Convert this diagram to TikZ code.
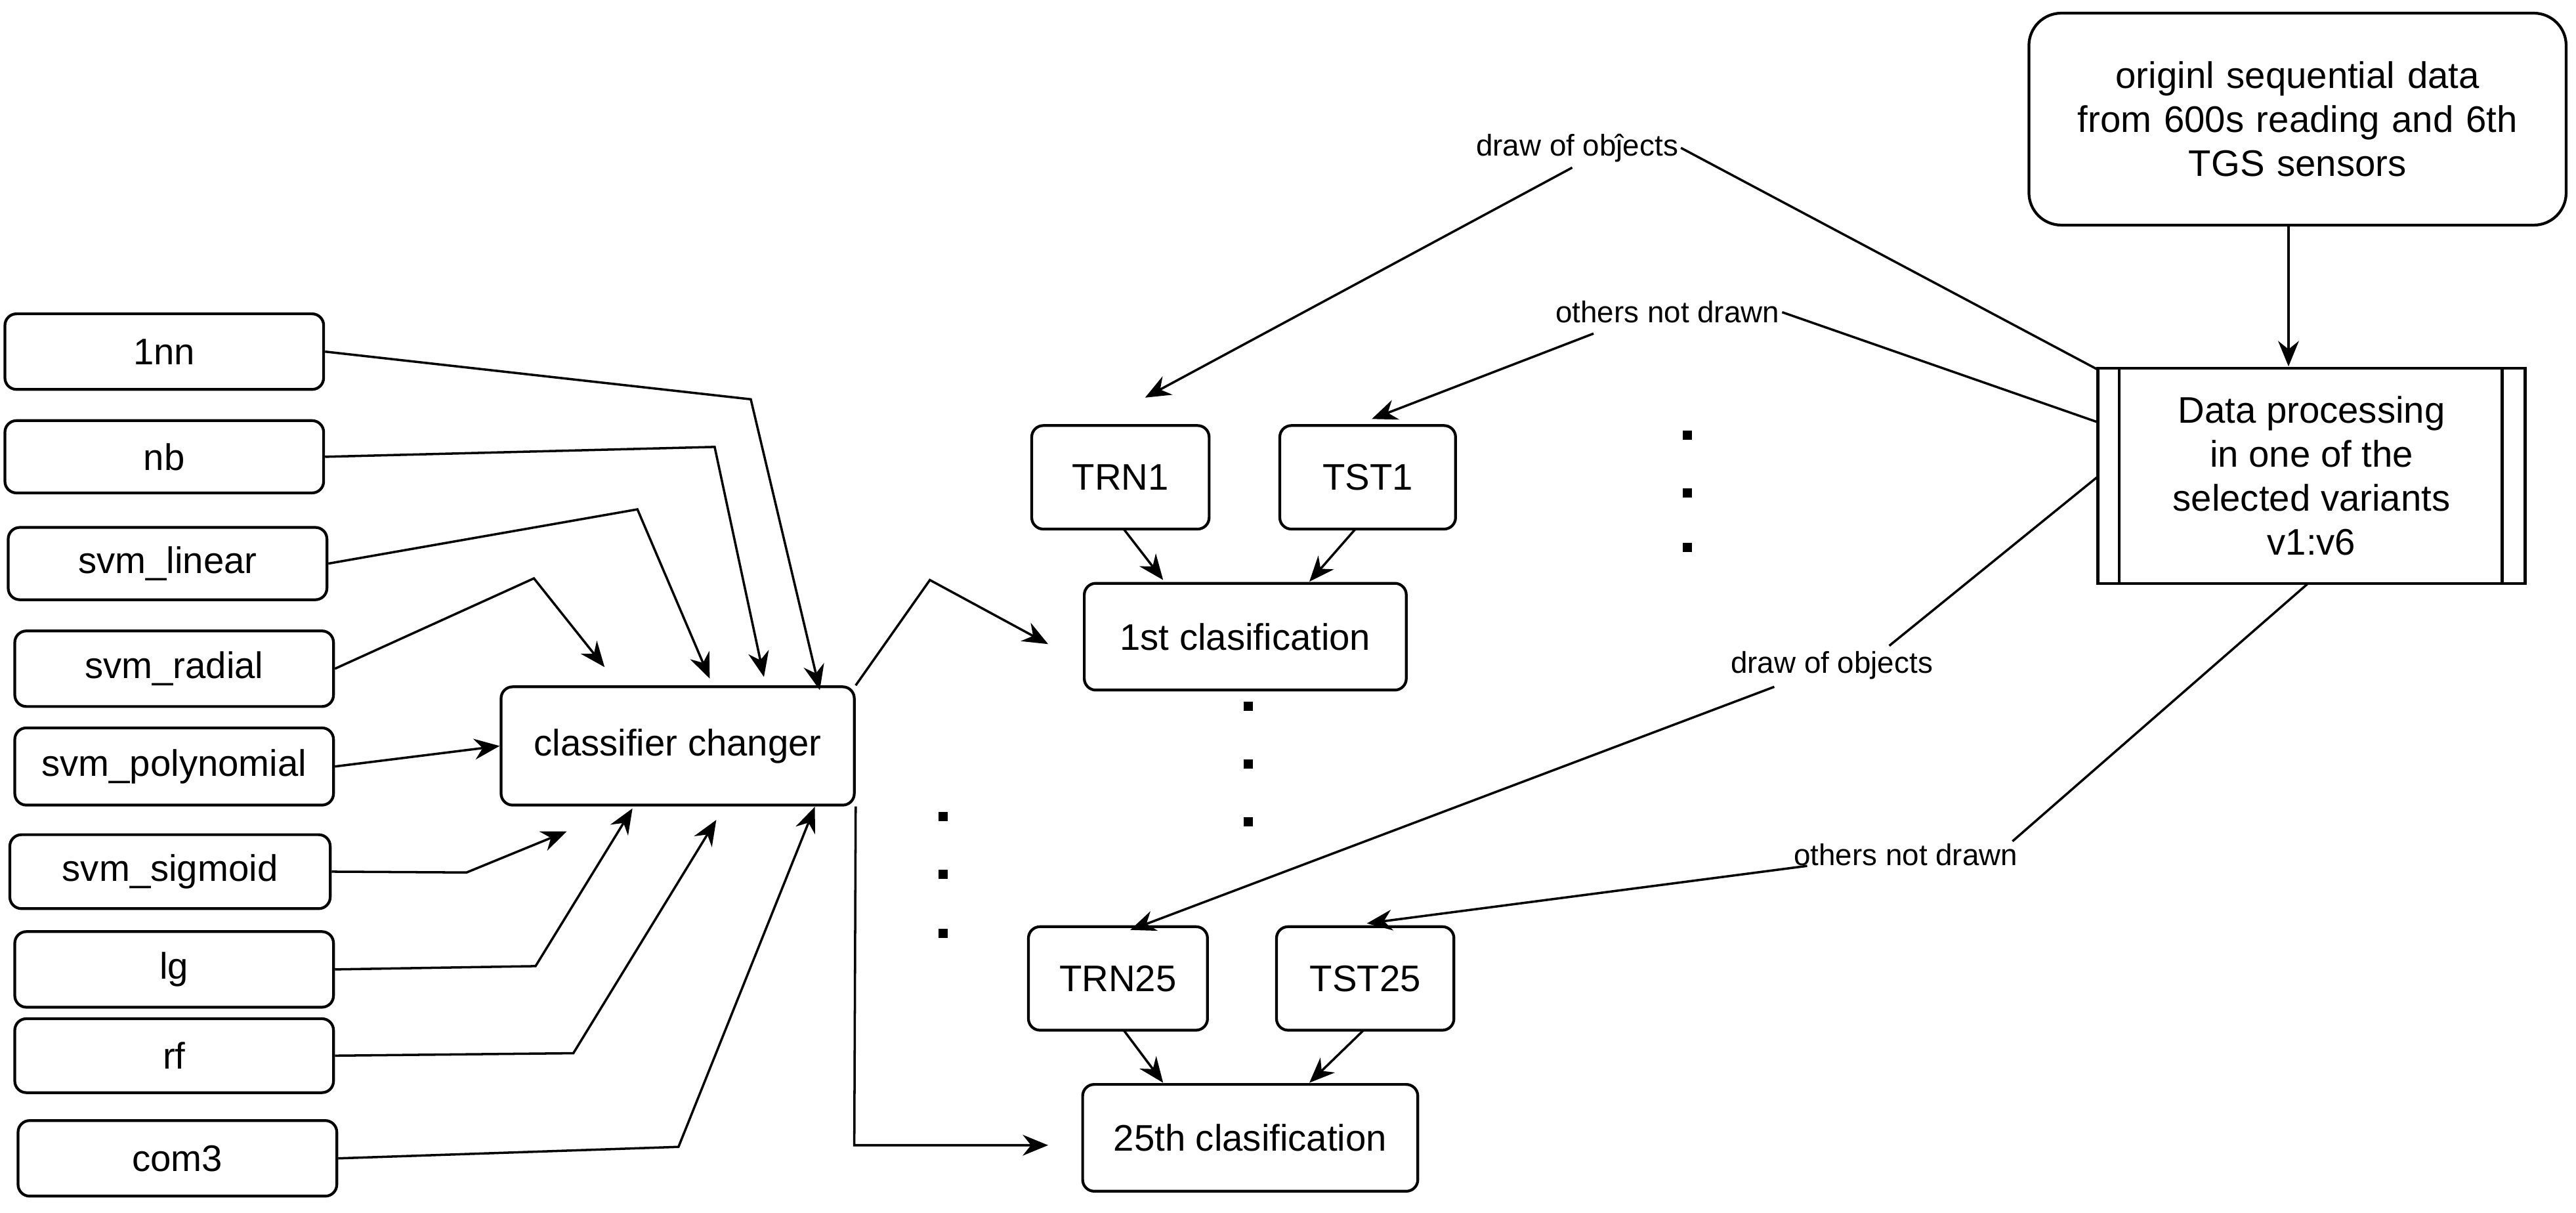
\documentclass[tikz,border=0pt]{standalone}
\usepackage{fontspec}
\setmainfont{Liberation Sans}
\usetikzlibrary{arrows.meta}
\begin{document}
\begin{tikzpicture}[x=0.025cm,y=-0.025cm,
  box/.style={draw,line width=1.2pt,rounded corners=5pt,inner sep=0pt,font=\fontsize{16}{19}\selectfont,align=center},
  ln/.style={line width=1pt},
  ar/.style={ln,-{Stealth[length=11pt,width=9pt]}},
  lab/.style={font=\fontsize{13}{15}\selectfont,inner sep=1pt,fill=white},
  dot/.style={fill=black,minimum size=4pt,inner sep=0pt}]
\useasboundingbox (0,0) rectangle (1568,738);
\newcommand{\bx}[6]{\node[box,minimum width=#4*0.025cm-#2*0.025cm,minimum height=#5*0.025cm-#3*0.025cm] (#1) at ({(#2+#4)/2},{(#3+#5)/2}) {#6};}
\bx{nn}{3}{191}{197}{237}{1nn}
\bx{nb}{3}{256}{197}{300}{nb}
\bx{sl}{5}{321}{199}{365}{svm\_linear}
\bx{sr}{9}{384}{203}{430}{svm\_radial}
\bx{sp}{9}{443}{203}{490}{svm\_polynomial}
\bx{ss}{6}{508}{201}{553}{svm\_sigmoid}
\bx{lg}{9}{567}{203}{613}{lg}
\bx{rf}{9}{620}{203}{665}{rf}
\bx{cm}{11}{682}{205}{728}{com3}
\bx{cc}{305}{418}{520}{490}{classifier changer}
\bx{trn1}{628}{259}{736}{322}{TRN1}
\bx{tst1}{779}{259}{886}{322}{TST1}
\bx{c1}{660}{355}{856}{420}{1st clasification}
\bx{trn25}{626}{564}{735}{627}{TRN25}
\bx{tst25}{777}{564}{885}{627}{TST25}
\bx{c25}{659}{660}{863}{725}{25th clasification}
\node[box,rounded corners=14pt,minimum width=327*0.025cm,minimum height=129*0.025cm,text width=310*0.025cm] (orig) at (1398.5,72.5) {originl sequential data\\from 600s reading and 6th\\TGS sensors};
\node[draw,line width=1.2pt,minimum width=260*0.025cm,minimum height=131*0.025cm,inner sep=0pt,font=\fontsize{16}{19}\selectfont,align=center] (dp) at (1407,289.5) {Data processing\\in one of the\\selected variants\\v1:v6};
\draw[line width=1.2pt] (1290,224) -- (1290,355) (1523,224) -- (1523,355);
\foreach \n/\x/\y in {a1/1027/265,a2/1027/300,a3/1027/333,b1/760/430,b2/760/465,b3/760/500,c1d/574/497,c2d/574/532,c3d/574/568}
  \node[dot] (\n) at (\x,\y) {};
% classifier inputs
\draw[ar] (nn.east) -- (457,243) -- (499,420);
\draw[ar] (nb.east) -- (435,272) -- (465,412);
\draw[ar] (sl.east) -- (388,310) -- (432,413);
\draw[ar] (sr.east) -- (325,352) -- (368,406);
\draw[ar] (sp.east) -- (cc.west);
\draw[ar] (ss.east) -- (284,531) -- (345,506);
\draw[ar] (lg.east) -- (326,588) -- (385,492);
\draw[ar] (rf.east) -- (349,641) -- (436,499);
\draw[ar] (cm.east) -- (413,698) -- (496,491);
\draw[ar] (cc.north east) -- (566,353) -- (638,392);
\draw[ar] (cc.south east) -- (520,697) -- (638,697);
\draw[ar] (684,322) -- (708,353);
\draw[ar] (825,322) -- (797,354);
\draw[ar] (684,627) -- (708,659);
\draw[ar] (830,627) -- (797,659);
\draw[ar] (orig.south -| 1393,0) -- (1393,223);
% labelled splits
\node[lab] (l1) at (960,90) {draw of ob\^{j}ects};
\node[lab] (l2) at (1015,190) {others not drawn};
\node[lab] (l3) at (1115,405) {draw of objects};
\node[lab] (l4) at (1160,520) {others not drawn};
\draw[ln] (1277,225) -- (l1.east);
\draw[ar] (957,102) -- (697,242);
\draw[ln] (1277,257) -- (l2.east);
\draw[ar] (970,203) -- (835,255);
\draw[ln] (1277,290) -- (1150,393);
\draw[ar] (1080,418) -- (688,566);
\draw[ln] (1405,355) -- (1225,512);
\draw[ar] (1100,527) -- (832,562);
\end{tikzpicture}
\end{document}
